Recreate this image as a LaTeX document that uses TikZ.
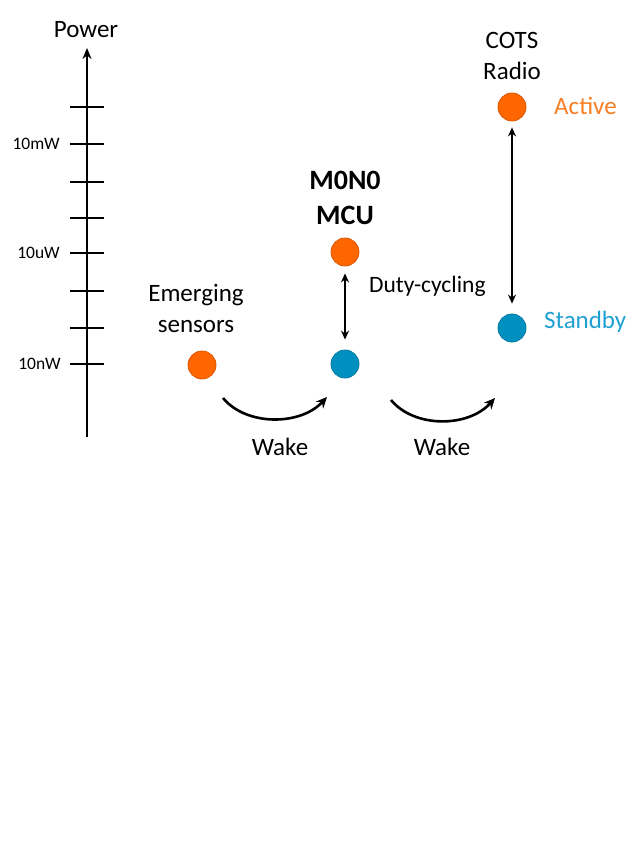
\documentclass[tikz,border=0pt]{standalone}
\usepackage{fontspec}
\setmainfont{Carlito}
\usepackage{tikz}
\usetikzlibrary{positioning,arrows.meta,calc}
\definecolor{dotorange}{RGB}{255,102,0}
\definecolor{dotblue}{RGB}{0,144,192}
\definecolor{txtorange}{RGB}{247,125,35}
\definecolor{txtblue}{RGB}{30,160,210}

\begin{document}
\begin{tikzpicture}[x=1pt,y=-1pt,
  dot/.style={circle,inner sep=0pt,minimum size=28pt,line width=0.8pt},
  on/.style={dot,fill=dotorange,draw=dotorange!85!black},
  off/.style={dot,fill=dotblue,draw=dotblue!85!black},
  lbl/.style={font=\fontsize{25}{31}\selectfont,align=center,inner sep=0pt},
  boldlbl/.style={font=\bfseries\fontsize{28}{35}\selectfont,align=center,inner sep=0pt},
  scalelbl/.style={font=\fontsize{17.5}{20}\selectfont,anchor=east,inner sep=0pt},
  tickline/.style={line width=2pt},
  swap/.style={line width=1.9pt,{Stealth[length=9pt,width=8pt]}-{Stealth[length=9pt,width=8pt]}},
  wake/.style={line width=2.6pt,-{Stealth[length=11pt,width=10pt]}}]
\useasboundingbox (0,0) rectangle (634,861);
% power axis
\coordinate (ax0) at (87,437);
\coordinate (ax1) at (87,48);
\draw[line width=2.1pt,-{Stealth[length=11pt,width=9pt]}] (ax0) -- (ax1);
\node[lbl] (pw) at (86,30) {Power};
\foreach \ty in {107,144,182,218,253,291,328,364}
  \draw[tickline] (70,\ty) -- (104,\ty);
\node[scalelbl] (mw) at (60,144) {10mW};
\node[scalelbl] (uw) at (60,253) {10uW};
\node[scalelbl] (nw) at (61,364) {10nW};
% states
\node[on] (sens) at (202,365) {};
\node[on] (mcuA) at (345,252) {};
\node[off] (mcuS) at (345,364) {};
\node[on] (radA) at (512,107) {};
\node[off] (radS) at (512,328) {};
% labels
\node[lbl] (sensl) at (196,308) {Emerging\\sensors};
\node[boldlbl] (mcul) at (345,198) {M0N0\\MCU};
\node[lbl] (radl) at (512,56) {COTS\\Radio};
\node[lbl,text=txtorange,anchor=base west] (actl) at (554,115) {Active};
\node[lbl,text=txtblue,anchor=base west] (stbl) at (544,328) {Standby};
\node[lbl,anchor=base west,font=\fontsize{23.5}{28}\selectfont] (dutyl) at (369,292) {Duty-cycling};
% transitions
\draw[swap,shorten <=7pt,shorten >=10pt] (mcuA) -- (mcuS);
\draw[swap,shorten <=6pt,shorten >=10pt] (radA) -- (radS);
\coordinate (w1a) at (223,398);
\coordinate (w1b) at (327,397);
\coordinate (w2a) at (391,400);
\coordinate (w2b) at (495,398);
\draw[wake] (w1a) .. controls (246,426) and (300,426) .. (w1b);
\draw[wake] (w2a) .. controls (414,428) and (468,428) .. (w2b);
\node[lbl,anchor=base] (wk1) at (280,455) {Wake};
\node[lbl,anchor=base] (wk2) at (442,455) {Wake};
\end{tikzpicture}
\end{document}
